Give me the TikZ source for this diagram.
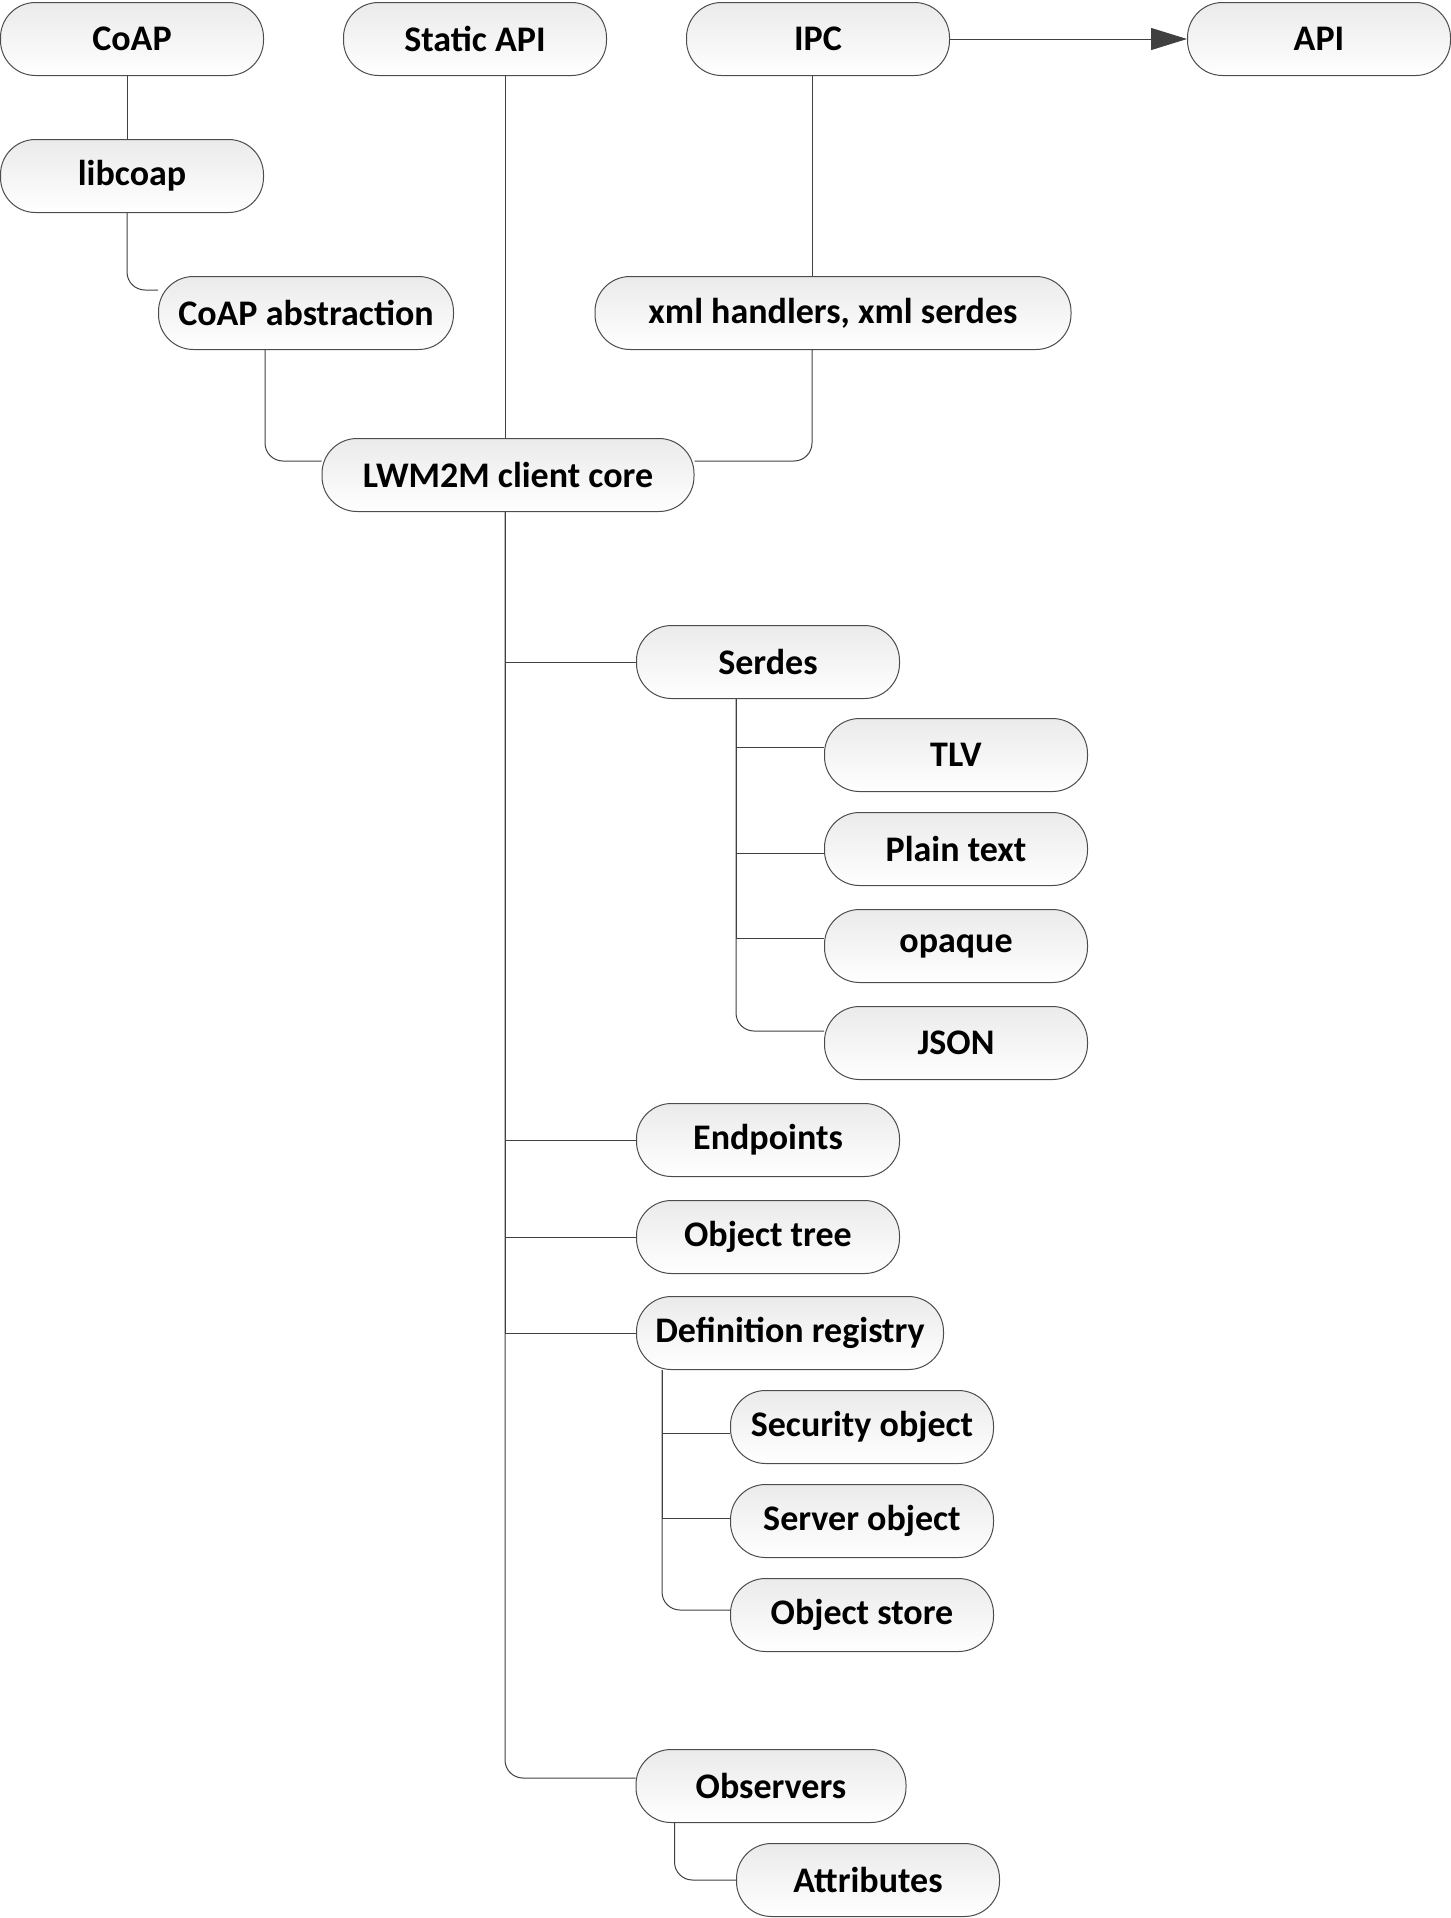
\documentclass[tikz,border=0pt]{standalone}
\usepackage{fontspec}
\setmainfont{Carlito}
\usetikzlibrary{arrows.meta}

\tikzset{
  module/.style={draw=black!70, line width=0.5pt, rounded corners=17.5pt,
    top color=black!8, bottom color=white, minimum height=36.5pt,
    minimum width=131.5pt, inner sep=0pt,
    font=\fontsize{18}{21}\selectfont\bfseries},
  link/.style={draw=black!75, line width=0.5pt},
  elbow/.style={link, rounded corners=9pt},
}

\begin{document}
\begin{tikzpicture}[x=0.5pt,y=-0.5pt]
		\useasboundingbox (0,0) rectangle (1451,1918);

		% top row
		\node[module] (coap) at (132,39) {CoAP};
		\node[module] (static) at (475,39) {Static API};
		\node[module] (ipc) at (818,39) {IPC};
		\node[module] (api) at (1319,39) {API};

		\node[module] (libcoap) at (132,176) {libcoap};
		\node[module, minimum width=147.5pt] (coapabs) at (306,313) {CoAP abstraction};
		\node[module, minimum width=238pt] (xml) at (833,313) {xml handlers, xml serdes};
		\node[module, minimum width=186pt] (core) at (508,475) {LWM2M client core};

		% serdes
		\node[module] (serdes) at (768,662) {Serdes};
		\node[module] (tlv) at (956,755) {TLV};
		\node[module] (plain) at (956,849) {Plain text};
		\node[module] (opaque) at (956,946) {opaque};
		\node[module] (json) at (956,1043) {JSON};

		\node[module] (endpoints) at (768,1140) {Endpoints};
		\node[module] (objtree) at (768,1237) {Object tree};

		% registry
		\node[module, minimum width=153.5pt] (defreg) at (790,1333) {Definition registry};
		\node[module] (security) at (862,1427) {Security object};
		\node[module] (server) at (862,1521) {Server object};
		\node[module] (store) at (862,1615) {Object store};

		\node[module, minimum width=135pt] (observers) at (771,1786) {Observers};
		\node[module] (attributes) at (868,1880) {Attributes};

		% links above the core
		\draw[link] ([xshift=-2.5pt]coap.south) -- ([xshift=-2.5pt]libcoap.north);
		\draw[elbow] ([xshift=-2.5pt]libcoap.south) |- ([yshift=11.5pt]coapabs.west);
		\draw[elbow] ([xshift=-20.5pt]coapabs.south) |- ([yshift=7pt]core.west);
		\draw[link] ([xshift=15pt]static.south) -- ([xshift=15pt]static.south |- core.north);
		\draw[link] ([xshift=-3pt]ipc.south) -- ([xshift=-3pt]ipc.south |- xml.north);
		\draw[elbow] ([xshift=-10.5pt]xml.south) |- ([yshift=7pt]core.east);
		\draw[link, -{Triangle[length=18pt,width=11pt]}] (ipc.east) -- (api.west);

		% links below the core
		\foreach \n in {serdes,endpoints,objtree,defreg} { \draw[link] ([xshift=-1.5pt]core.south) |- (\n.west);}
		\draw[elbow] ([xshift=-1.5pt]core.south) |- ([yshift=4pt]observers.west);

		\foreach \n / \d in {tlv/4pt,plain/-2pt,opaque/4pt} { \draw[link] ([xshift=50pt]serdes.south west) |- ([yshift=\d]\n.west);}
		\draw[elbow] ([xshift=50pt]serdes.south west) |- ([yshift=6pt]json.west);

		\foreach \n / \d in {security/-3pt,server/1.5pt} { \draw[link] ([xshift=13pt]defreg.south west) |- ([yshift=\d]\n.west);}
		\draw[elbow] ([xshift=13pt]defreg.south west) |- ([yshift=2.5pt]store.west);

		\draw[elbow] ([xshift=19.5pt]observers.south west) |- (attributes.west);
\end{tikzpicture}
\end{document}
